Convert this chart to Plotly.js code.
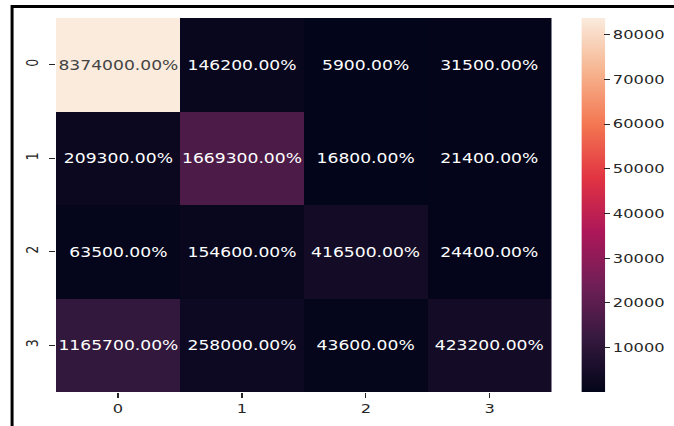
<!DOCTYPE html>
<html>
<head>
<meta charset="utf-8">
<script src="https://cdn.plot.ly/plotly-3.0.1.min.js"></script>
<style>
html,body{margin:0;padding:0;background:#fff;overflow:hidden;}
#wrap{width:674px;height:426px;overflow:hidden;position:relative;}
#chart{width:560px;height:426px;transform:scaleX(1.3012);transform-origin:0 0;}
</style>
</head>
<body>
<div id="wrap"><div id="chart"></div></div>
<script>
// Confusion-matrix style counts (rows = true, cols = predicted)
const rowLabels = ["0", "1", "2", "3"];
const colLabels = ["0", "1", "2", "3"];
const row0 = [83740, 1462, 59, 315];
const row1 = [2093, 16693, 168, 214];
const row2 = [635, 1546, 4165, 244];
const row3 = [11657, 2580, 436, 4232];
const colorbarTicks = [10000, 20000, 30000, 40000, 50000, 60000, 70000, 80000];

const z = [row0, row1, row2, row3];
const all = z.flat();
const zmin = Math.min(...all), zmax = Math.max(...all);

const rocket = [
  [0.0, "#03051a"],
  [0.143, "#35193e"],
  [0.286, "#701f57"],
  [0.429, "#ad1759"],
  [0.571, "#e13342"],
  [0.714, "#f37651"],
  [0.857, "#f6b48f"],
  [1.0, "#faebdd"]
];

const font = "DejaVu Sans, sans-serif";
const txt = "#262626";

const trace = {
  type: "heatmap",
  z: z,
  x: colLabels,
  y: rowLabels,
  zmin: zmin,
  zmax: zmax,
  colorscale: rocket,
  texttemplate: "%{z:.2%}",
  textfont: {family: font, size: 13.2},
  xgap: 0, ygap: 0,
  hoverinfo: "skip",
  colorbar: {
    x: 1.0606, xanchor: "left", xpad: 0,
    y: 0.5, yanchor: "middle", ypad: 0,
    len: 1, lenmode: "fraction",
    thickness: 17.7, thicknessmode: "pixels",
    outlinewidth: 0,
    tickmode: "array", tickvals: colorbarTicks, tickformat: "d",
    ticks: "outside", ticklen: 4, tickwidth: 1, tickcolor: txt,
    tickfont: {family: font, size: 12.5, color: txt}
  }
};

const layout = {
  width: 560, height: 426,
  margin: {l: 43, r: 135.8, t: 18, b: 34, pad: 0, autoexpand: false},
  paper_bgcolor: "#fff", plot_bgcolor: "#fff",
  font: {family: font, color: txt},
  xaxis: {
    type: "category", showgrid: false, zeroline: false, showline: false,
    ticks: "outside", ticklen: 5, tickwidth: 1, tickcolor: txt,
    tickfont: {family: font, size: 12.5, color: txt}
  },
  yaxis: {
    type: "category", autorange: "reversed", showgrid: false, zeroline: false, showline: false,
    ticks: "outside", ticklen: 4, tickwidth: 1, tickcolor: txt, tickangle: -90,
    ticklabelstandoff: 4,
    tickfont: {family: font, size: 12.5, color: txt}
  },
  shapes: [
    {type: "line", xref: "paper", yref: "paper", x0: -0.0907, x1: 1.5, y0: 1.0307, y1: 1.0307,
     line: {color: "#000", width: 3}},
    {type: "line", xref: "paper", yref: "paper", x0: -0.0885, x1: -0.0885, y0: -0.1, y1: 1.0347,
     line: {color: "#000", width: 2.3}}
  ]
};

Plotly.newPlot("chart", [trace], layout, {displayModeBar: false, staticPlot: true});
</script>
</body>
</html>
